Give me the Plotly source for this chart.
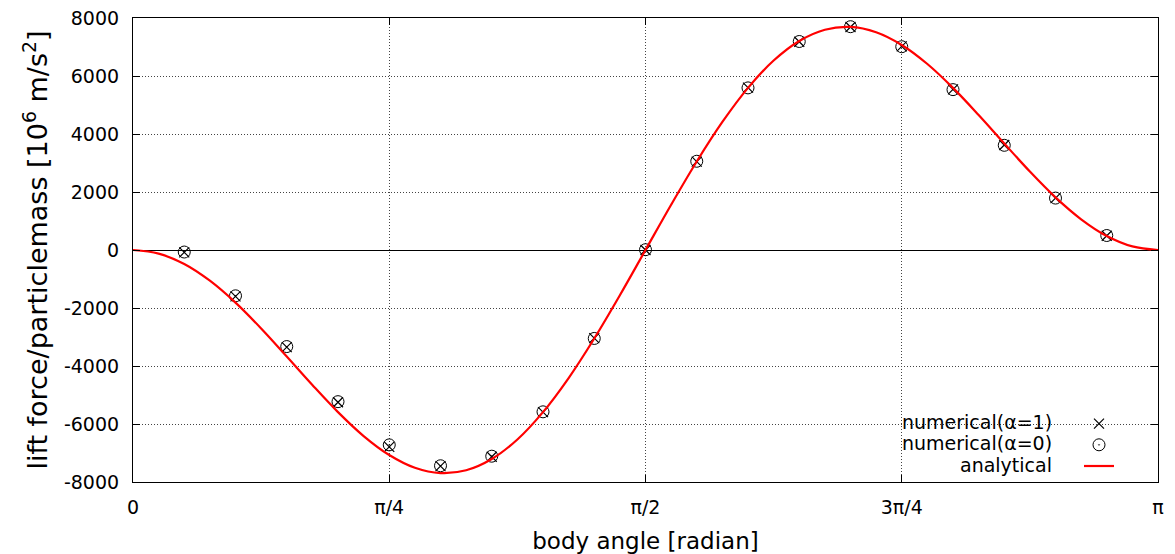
import numpy as np
import plotly.graph_objects as go

# ---- data ----
# numerical samples at body angle k*pi/20, k = 1..19
num_k = [1, 2, 3, 4, 5, 6, 7, 8, 9, 10, 11, 12, 13, 14, 15, 16, 17, 18, 19]
lift_alpha1 = [-80, -1600, -3350, -5250, -6790, -7450, -7130, -5590, -3040, 0,
               3050, 5600, 7180, 7690, 7020, 5540, 3620, 1790, 490]
lift_alpha0 = [-70, -1580, -3330, -5230, -6720, -7440, -7110, -5580, -3050, 10,
               3060, 5590, 7190, 7700, 7010, 5530, 3610, 1790, 500]

# analytical curve sampled at body angle k*pi/40, k = 0..40
ana_k = list(range(41))
lift_analytical = [0, -123, -483, -1060, -1816, -2706, -3673, -4655, -5590, -6415,
                   -7071, -7511, -7694, -7597, -7208, -6533, -5590, -4415, -3052, -1560,
                   0, 1560, 3052, 4415, 5590, 6533, 7208, 7597, 7694, 7511,
                   7071, 6415, 5590, 4655, 3673, 2706, 1816, 1060, 483, 123, 0]

x_tick_vals = [0, np.pi / 4, np.pi / 2, 3 * np.pi / 4, np.pi]
x_tick_text = ["0", "π/4", "π/2", "3π/4", "π"]
y_tick_vals = [-8000, -6000, -4000, -2000, 0, 2000, 4000, 6000, 8000]
y_tick_text = ["-8000", "-6000", "-4000", "-2000", "0", "2000", "4000", "6000", "8000"]

legend_labels = ["numerical(α=1)", "numerical(α=0)", "analytical"]

num_x = [k * np.pi / 20 for k in num_k]
ana_x = [k * np.pi / 40 for k in ana_k]

FONT = "DejaVu Sans"
W, H = 1175, 554
L, R, T, B = 133, 17, 18, 72
PW, PH = W - L - R, H - T - B


def px_x(px):
    return (px - L) / PW


def px_y(py):
    return (H - B - py) / PH


fig = go.Figure()
fig.add_trace(go.Scatter(
    x=num_x, y=lift_alpha1, mode="markers", name="",
    hovertemplate=legend_labels[0] + ": %{y}<extra></extra>",
    marker=dict(symbol="x-thin-open", size=10, color="black",
                line=dict(color="black", width=1.2)),
))
fig.add_trace(go.Scatter(
    x=num_x, y=lift_alpha0, mode="markers", name="",
    hovertemplate=legend_labels[1] + ": %{y}<extra></extra>",
    marker=dict(symbol="circle-open-dot", size=12, color="black",
                line=dict(color="black", width=1)),
))
fig.add_trace(go.Scatter(
    x=ana_x, y=lift_analytical, mode="lines", name="",
    hovertemplate=legend_labels[2] + ": %{y}<extra></extra>",
    line=dict(color="#ff0000", width=2.2, shape="spline"),
))

# white box behind the key (hides the grid, as in the reference)
fig.add_shape(type="rect", xref="paper", yref="paper",
              x0=px_x(899), x1=px_x(1149), y0=px_y(479), y1=px_y(405),
              fillcolor="white", line=dict(width=0), layer="between")

for lab, py in zip(legend_labels, [422, 443, 465]):
    fig.add_annotation(text=lab, xref="paper", yref="paper",
                       x=px_x(1054), y=px_y(py), xanchor="right", yanchor="middle",
                       showarrow=False, font=dict(family=FONT, size=19, color="black"))

axis_common = dict(
    showline=True, linecolor="black", linewidth=1.2, mirror="ticks",
    ticks="inside", ticklen=7, tickcolor="black", tickwidth=1,
    showgrid=True, gridcolor="#444444", gridwidth=1, griddash="1px,2px",
    tickfont=dict(family=FONT, size=19, color="black"),
    automargin=False,
)

fig.update_xaxes(
    range=[0, np.pi], tickmode="array", tickvals=x_tick_vals, ticktext=x_tick_text,
    zeroline=False, ticklabelstandoff=8,
    title=dict(text="body angle [radian]", font=dict(family=FONT, size=23, color="black"),
               standoff=16),
    **axis_common,
)
fig.update_yaxes(
    range=[-8000, 8000], tickmode="array", tickvals=y_tick_vals, ticktext=y_tick_text,
    zeroline=True, zerolinecolor="black", zerolinewidth=1, ticklabelstandoff=9,
    title=dict(text="lift force/particlemass [10<sup>6</sup> m/s<sup>2</sup>]",
               font=dict(family=FONT, size=27, color="black"), standoff=8),
    **axis_common,
)

fig.update_layout(
    width=W, height=H,
    margin=dict(l=L, r=R, t=T, b=B),
    paper_bgcolor="white", plot_bgcolor="white",
    font=dict(family=FONT, size=19, color="black"),
    showlegend=True,
    legend=dict(x=px_x(1079), y=px_y(408), xanchor="left", yanchor="top",
                bgcolor="rgba(0,0,0,0)", borderwidth=0, tracegroupgap=0,
                font=dict(family=FONT, size=14), itemwidth=30),
)

fig.write_html("out.html")
